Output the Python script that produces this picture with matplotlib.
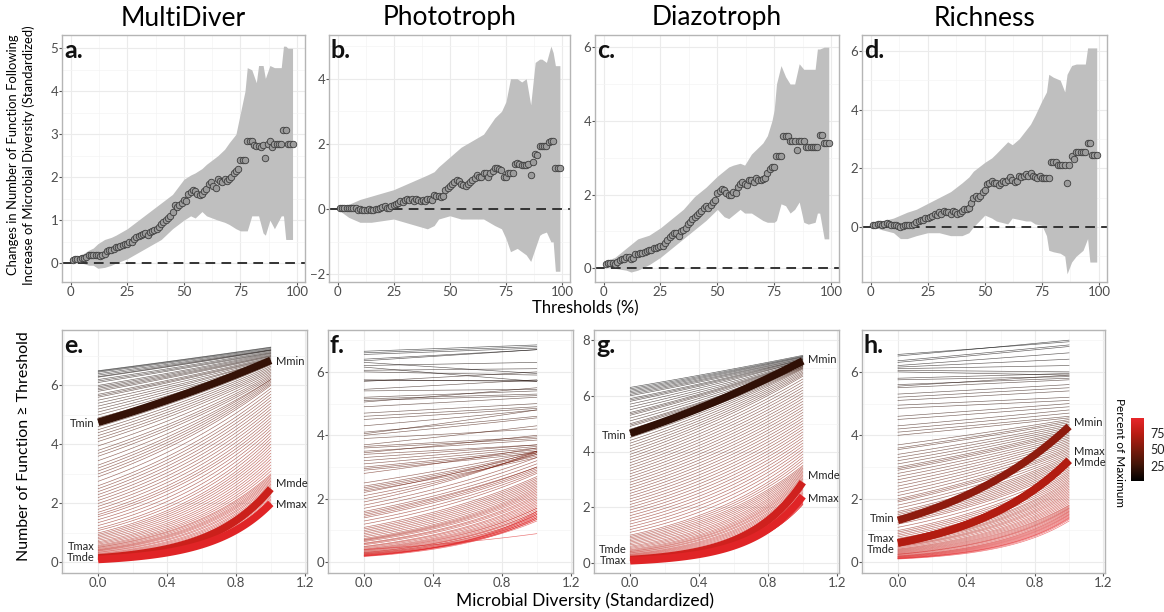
import numpy as np
import matplotlib
matplotlib.use('Agg')
import matplotlib.pyplot as plt
from matplotlib.colors import LinearSegmentedColormap, Normalize
from matplotlib.cm import ScalarMappable
from matplotlib.ticker import MultipleLocator, FormatStrFormatter

plt.rcParams['font.family'] = ['Lato', 'DejaVu Sans']

# ---------------- data: top row (effect of diversity at each threshold) ----------------
titles = ['MultiDiver', 'Phototroph', 'Diazotroph', 'Richness']

a_mean = [0.08, 0.1, 0.1, 0.1, 0.12, 0.12, 0.15, 0.18, 0.18, 0.2,
          0.2, 0.18, 0.16, 0.2, 0.22, 0.28, 0.3, 0.3, 0.32, 0.38,
          0.38, 0.4, 0.42, 0.45, 0.45, 0.48, 0.5, 0.55, 0.6, 0.62,
          0.65, 0.68, 0.7, 0.66, 0.72, 0.75, 0.78, 0.8, 0.85, 0.9,
          0.95, 1.0, 1.05, 1.1, 1.2, 1.35, 1.3, 1.35, 1.4, 1.48,
          1.45, 1.62, 1.65, 1.7, 1.68, 1.6, 1.58, 1.62, 1.68, 1.72,
          1.85, 1.88, 1.8, 1.75, 1.95, 1.9, 1.88, 1.95, 1.92, 1.95,
          2.0, 2.1, 2.15, 2.18, 2.4, 2.4, 2.4, 2.85, 2.85, 2.85,
          2.75, 2.72, 2.72, 2.7, 2.75, 2.45, 2.78, 2.85, 2.7, 2.78,
          2.78, 2.78, 2.78, 3.1, 3.1, 2.78, 2.78, 2.78]
b_mean = [0.03, 0.05, 0.05, 0.05, 0.04, 0.03, 0.05, 0.03, -0.02, 0.0,
          -0.03, -0.03, -0.02, 0.0, -0.03, -0.02, 0.0, 0.02, 0.05, 0.08,
          0.1, 0.05, 0.03, 0.1, 0.12, 0.15, 0.2, 0.25, 0.22, 0.28,
          0.3, 0.28, 0.3, 0.25, 0.3, 0.28, 0.25, 0.28, 0.25, 0.3,
          0.32, 0.28, 0.45, 0.4, 0.42, 0.38, 0.42, 0.6, 0.65, 0.7,
          0.78, 0.85, 0.9, 0.88, 0.78, 0.75, 0.72, 0.78, 0.82, 0.9,
          0.95, 1.05, 1.0, 0.98, 1.1, 1.12, 1.0, 1.12, 1.18, 1.25,
          1.25, 1.22, 1.2, 1.0, 0.98, 1.1, 1.1, 1.12, 1.4, 1.42,
          1.38, 1.35, 1.35, 1.35, 1.4, 1.05, 1.45, 1.7, 1.65, 1.95,
          1.95, 1.95, 1.95, 2.05, 2.1, 2.1, 1.25, 1.25, 1.25]
c_mean = [0.12, 0.15, 0.15, 0.15, 0.12, 0.18, 0.22, 0.25, 0.25, 0.3,
          0.3, 0.25, 0.28, 0.38, 0.4, 0.42, 0.42, 0.45, 0.48, 0.5,
          0.5, 0.55, 0.55, 0.58, 0.6, 0.62, 0.7, 0.78, 0.85, 0.9,
          0.95, 0.95, 0.88, 1.0, 1.05, 1.1, 1.2, 1.25, 1.35, 1.4,
          1.45, 1.5, 1.55, 1.65, 1.7, 1.65, 1.72, 1.8, 1.85, 2.05,
          2.1, 2.15, 2.12, 2.05, 1.98, 2.0, 2.08, 2.05, 2.2, 2.3,
          2.35, 2.28, 2.25, 2.4, 2.4, 2.35, 2.45, 2.4, 2.4, 2.42,
          2.45, 2.6, 2.7, 2.75, 2.75, 3.05, 3.05, 3.05, 3.6, 3.6,
          3.6, 3.45, 3.45, 3.45, 3.2, 3.45, 3.45, 3.45, 3.3, 3.3,
          3.3, 3.3, 3.3, 3.3, 3.62, 3.62, 3.4, 3.4, 3.4]
d_mean = [0.05, 0.08, 0.1, 0.1, 0.08, 0.1, 0.12, 0.1, 0.08, 0.08,
          0.05, 0.02, 0.0, 0.02, 0.05, 0.05, 0.08, 0.08, 0.1, 0.15,
          0.2, 0.25, 0.25, 0.3, 0.3, 0.35, 0.38, 0.45, 0.4, 0.5,
          0.45, 0.55, 0.5, 0.5, 0.45, 0.55, 0.5, 0.45, 0.48, 0.55,
          0.6, 0.62, 0.65, 0.8, 1.0, 1.05, 1.0, 1.05, 1.2, 1.25,
          1.45, 1.5, 1.55, 1.5, 1.48, 1.42, 1.5, 1.55, 1.52, 1.6,
          1.7, 1.6, 1.52, 1.55, 1.75, 1.7, 1.72, 1.8, 1.75, 1.85,
          1.75, 1.7, 1.68, 1.72, 1.68, 1.65, 1.65, 1.65, 2.2, 2.2,
          2.2, 2.1, 2.1, 2.1, 2.1, 1.5, 2.1, 2.4, 2.3, 2.55,
          2.55, 2.55, 2.55, 2.55, 2.85, 2.85, 2.45, 2.45, 2.45]

# confidence band (threshold, lower, upper)
a_band_x = [1, 3, 5, 8, 10, 12, 15, 18, 20, 25, 30, 35, 40, 45, 50, 53, 55, 58, 60, 65,
            68, 70, 73, 75, 77, 78, 80, 82, 83, 85, 86, 88, 90, 92, 93, 94, 95, 96, 97, 98]
a_band_hi = [0.12, 0.15, 0.2, 0.3, 0.35, 0.45, 0.55, 0.6, 0.65, 0.8, 1.0, 1.2, 1.4, 1.6, 1.95, 2.05, 2.1, 2.2, 2.3, 2.5,
             2.65, 2.8, 3.0, 3.5, 4.0, 4.55, 4.5, 4.2, 4.6, 4.6, 4.3, 4.6, 4.55, 4.55, 4.55, 5.05, 5.05, 5.0, 5.0, 5.0]
a_band_lo = [0.05, 0.05, 0.0, -0.05, -0.05, -0.12, -0.1, -0.05, 0.0, 0.1, 0.25, 0.4, 0.55, 0.8, 1.0, 1.1, 1.05, 1.2, 1.1, 1.0,
             0.95, 0.9, 0.8, 0.75, 0.75, 0.75, 1.1, 1.1, 1.1, 0.7, 0.65, 1.0, 0.8, 1.0, 1.1, 1.1, 0.55, 0.55, 0.55, 0.55]

b_band_x = [1, 5, 10, 15, 20, 25, 30, 35, 40, 43, 45, 50, 55, 60, 65, 70, 73, 75, 77, 80,
            82, 84, 86, 88, 90, 91, 93, 95, 96, 97, 99]
b_band_hi = [0.1, 0.15, 0.3, 0.4, 0.5, 0.6, 0.75, 0.9, 1.05, 1.15, 1.3, 1.6, 1.9, 2.1, 2.3, 2.8, 3.0, 3.3, 4.0, 4.0,
             3.9, 4.0, 3.2, 4.5, 4.6, 4.6, 4.5, 5.0, 4.8, 4.4, 4.4]
b_band_lo = [-0.05, -0.25, -0.4, -0.4, -0.35, -0.3, -0.4, -0.5, -0.6, -0.5, -0.3, -0.2, -0.3, -0.3, -0.3, -0.5, -0.6, -0.9, -1.3, -1.2,
             -1.3, -1.4, -1.6, -1.2, -0.8, -0.75, -0.7, -1.0, -1.0, -1.9, -1.9]

c_band_x = [1, 5, 10, 12, 15, 20, 25, 30, 35, 40, 45, 50, 53, 55, 57, 60, 62, 65, 70, 72,
            74, 75, 76, 78, 80, 82, 84, 86, 88, 90, 93, 94, 95, 97, 99]
c_band_hi = [0.2, 0.3, 0.55, 0.65, 0.8, 0.9, 1.1, 1.35, 1.6, 1.95, 2.2, 2.5, 2.65, 2.75, 2.8, 2.85, 2.8, 3.1, 3.4, 3.6,
             4.0, 4.3, 5.0, 5.5, 5.2, 5.0, 5.0, 5.55, 5.4, 5.4, 5.4, 5.95, 5.95, 6.0, 6.0]
c_band_lo = [0.05, 0.0, -0.05, -0.1, -0.05, 0.1, 0.3, 0.55, 0.8, 1.05, 1.3, 1.6, 1.4, 1.35, 1.45, 1.6, 1.5, 1.5, 1.3, 1.25,
             1.25, 1.25, 1.3, 1.75, 1.7, 1.5, 1.6, 1.8, 1.25, 1.2, 1.25, 1.5, 1.5, 0.8, 0.8]

d_band_x = [1, 5, 10, 13, 16, 20, 25, 30, 35, 40, 43, 45, 50, 53, 55, 60, 62, 65, 68, 70,
            72, 75, 77, 78, 80, 83, 85, 86, 88, 90, 93, 94, 95, 96, 97, 99]
d_band_hi = [0.1, 0.2, 0.3, 0.4, 0.5, 0.6, 0.8, 1.0, 1.2, 1.5, 1.7, 1.9, 2.2, 2.35, 2.5, 2.9, 2.8, 3.0, 3.3, 3.5,
             3.8, 4.3, 4.6, 5.2, 5.1, 5.0, 4.6, 5.2, 5.5, 5.55, 5.55, 5.55, 6.1, 6.1, 6.1, 6.1]
d_band_lo = [0.0, -0.1, -0.2, -0.4, -0.4, -0.3, -0.2, -0.2, -0.3, -0.3, -0.2, 0.0, 0.4, 0.3, 0.2, 0.1, 0.3, 0.25, 0.2, 0.2,
             0.1, 0.05, -0.3, -0.8, -0.85, -0.9, -1.0, -1.6, -1.2, -1.0, -0.8, -0.6, -0.4, -1.2, -1.2, -1.2]

# ---------------- data: bottom row (fitted number of functions >= threshold) ----------------
# value of each threshold curve (1..99 %) at diversity 0 and at diversity 1
e_start = [6.5, 6.48, 6.45, 6.4, 6.35, 6.3, 6.28, 6.2, 6.15, 6.1,
           6.0, 5.95, 5.9, 5.85, 5.8, 5.7, 5.65, 5.6, 5.5, 5.4,
           5.3, 5.2, 5.1, 5.0, 4.9, 4.75, 4.6, 4.5, 4.4, 4.3,
           4.2, 4.1, 3.95, 3.8, 3.7, 3.6, 3.45, 3.3, 3.2, 3.1,
           3.0, 2.9, 2.75, 2.6, 2.5, 2.4, 2.3, 2.2, 2.1, 2.0,
           1.9, 1.8, 1.7, 1.62, 1.55, 1.45, 1.35, 1.25, 1.15, 1.08,
           1.0, 0.95, 0.9, 0.85, 0.8, 0.75, 0.7, 0.66, 0.62, 0.58,
           0.55, 0.52, 0.5, 0.47, 0.44, 0.42, 0.4, 0.38, 0.35, 0.33,
           0.3, 0.28, 0.26, 0.24, 0.22, 0.2, 0.19, 0.18, 0.17, 0.16,
           0.15, 0.14, 0.13, 0.12, 0.12, 0.11, 0.1, 0.1, 0.1]
e_end = [7.3, 7.28, 7.25, 7.22, 7.2, 7.2, 7.18, 7.15, 7.12, 7.1,
         7.08, 7.05, 7.02, 7.0, 6.98, 6.95, 6.92, 6.9, 6.88, 6.85,
         6.85, 6.82, 6.8, 6.78, 6.75, 6.85, 6.7, 6.65, 6.6, 6.55,
         6.5, 6.45, 6.4, 6.35, 6.3, 6.25, 6.2, 6.2, 6.15, 6.1,
         6.05, 6.0, 5.9, 5.8, 5.7, 5.6, 5.5, 5.4, 5.3, 5.2,
         5.1, 5.0, 4.9, 4.8, 4.7, 4.6, 4.5, 4.4, 4.3, 4.2,
         4.1, 4.0, 3.9, 3.8, 3.7, 3.6, 3.5, 3.4, 3.3, 3.2,
         3.1, 3.0, 2.95, 2.9, 2.85, 2.8, 2.75, 2.7, 2.65, 2.6,
         2.55, 2.5, 2.45, 2.4, 2.35, 2.3, 2.25, 2.2, 2.15, 2.1,
         2.05, 2.0, 2.0, 1.95, 1.95, 1.9, 1.9, 1.9, 1.9]

f_start = [6.65, 6.6, 6.55, 6.4, 6.35, 6.3, 6.2, 6.15, 6.05, 6.0,
           5.75, 5.75, 5.7, 5.45, 5.4, 5.2, 5.15, 5.1, 5.05, 4.9,
           4.7, 4.6, 4.5, 4.3, 4.1, 4.05, 4.0, 3.9, 3.7, 3.65,
           3.6, 3.5, 3.45, 3.4, 3.3, 3.2, 3.1, 3.0, 2.95, 2.9,
           2.8, 2.5, 2.4, 2.35, 2.3, 2.25, 2.2, 2.1, 2.0, 1.9,
           1.8, 1.7, 1.6, 1.55, 1.5, 1.45, 1.4, 1.3, 1.2, 1.1,
           1.05, 1.0, 0.95, 0.9, 0.85, 0.8, 0.75, 0.72, 0.7, 0.68,
           0.65, 0.6, 0.58, 0.55, 0.5, 0.48, 0.45, 0.42, 0.4, 0.38,
           0.36, 0.34, 0.32, 0.3, 0.3, 0.28, 0.27, 0.26, 0.25, 0.24,
           0.23, 0.22, 0.22, 0.4, 0.2, 0.2, 0.2, 0.19, 0.18]
f_end = [6.85, 6.8, 6.75, 6.7, 6.7, 5.95, 6.3, 5.7, 6.1, 5.9,
         5.75, 5.7, 6.0, 5.75, 5.45, 5.4, 5.3, 5.25, 5.5, 5.2,
         5.0, 4.9, 4.85, 4.8, 4.6, 4.8, 4.55, 4.2, 4.3, 3.95,
         3.9, 3.85, 4.0, 3.7, 3.7, 3.65, 3.6, 3.55, 3.5, 3.45,
         3.6, 3.5, 3.45, 3.4, 3.35, 3.3, 3.5, 3.4, 3.45, 3.5,
         3.3, 3.2, 3.1, 3.0, 3.0, 2.95, 2.9, 2.85, 2.8, 2.7,
         2.65, 2.6, 2.55, 2.5, 2.45, 2.4, 2.35, 2.3, 2.25, 2.2,
         2.15, 2.1, 2.05, 2.0, 1.95, 1.9, 1.85, 1.8, 1.75, 1.7,
         1.7, 1.65, 1.6, 1.6, 1.55, 1.5, 1.5, 1.45, 1.4, 1.4,
         1.35, 1.35, 1.3, 0.9, 1.6, 1.55, 1.5, 1.45, 1.4]

g_start = [6.3, 6.25, 6.2, 6.15, 6.1, 6.05, 6.0, 5.9, 5.85, 5.8,
           5.7, 5.6, 5.5, 5.4, 5.35, 5.3, 5.2, 5.1, 5.0, 4.95,
           4.9, 4.8, 4.75, 4.7, 4.6, 4.5, 4.4, 4.3, 4.2, 4.1,
           4.0, 3.9, 3.8, 3.7, 3.6, 3.5, 3.4, 3.3, 3.2, 3.1,
           3.0, 2.9, 2.8, 2.7, 2.6, 2.5, 2.4, 2.3, 2.2, 2.1,
           2.0, 1.9, 1.8, 1.7, 1.6, 1.5, 1.4, 1.3, 1.2, 1.1,
           1.0, 0.95, 0.9, 0.85, 0.8, 0.75, 0.7, 0.65, 0.6, 0.56,
           0.52, 0.48, 0.45, 0.42, 0.4, 0.37, 0.35, 0.32, 0.3, 0.28,
           0.26, 0.24, 0.22, 0.2, 0.19, 0.18, 0.17, 0.16, 0.15, 0.14,
           0.13, 0.12, 0.11, 0.1, 0.1, 0.09, 0.08, 0.08, 0.08]
g_end = [7.45, 7.42, 7.4, 7.38, 7.35, 7.33, 7.3, 7.3, 7.28, 7.25,
         7.25, 7.22, 7.2, 7.2, 7.18, 7.15, 7.15, 7.12, 7.1, 7.1,
         7.08, 7.05, 7.05, 7.02, 7.0, 6.98, 6.95, 6.9, 6.85, 6.8,
         6.75, 6.7, 6.6, 6.5, 6.4, 6.3, 6.2, 6.1, 6.0, 5.9,
         5.8, 5.7, 5.6, 5.5, 5.4, 5.3, 5.2, 5.1, 5.0, 4.9,
         4.8, 4.7, 4.6, 4.5, 4.4, 4.3, 4.2, 4.1, 4.0, 3.9,
         3.8, 3.7, 3.6, 3.5, 3.45, 3.4, 3.35, 3.3, 3.25, 3.2,
         3.15, 3.1, 3.05, 3.0, 2.95, 2.9, 2.85, 2.8, 2.75, 2.7,
         2.65, 2.6, 2.55, 2.5, 2.45, 2.4, 2.35, 2.3, 2.3, 2.25,
         2.25, 2.2, 2.2, 2.2, 2.15, 2.15, 2.1, 2.1, 2.1]

h_start = [6.55, 6.5, 6.35, 6.3, 6.2, 6.15, 6.1, 6.05, 6.0, 5.8,
           5.75, 5.6, 5.55, 5.5, 5.3, 5.2, 5.1, 4.95, 4.85, 4.6,
           4.5, 4.3, 4.2, 4.1, 4.0, 3.7, 3.6, 3.55, 3.4, 3.3,
           3.2, 3.1, 3.0, 2.95, 2.9, 2.8, 2.7, 2.6, 2.5, 2.4,
           2.3, 2.2, 2.1, 2.0, 1.95, 1.9, 1.8, 1.7, 1.6, 1.55,
           1.5, 1.45, 1.4, 1.35, 1.3, 1.25, 1.2, 1.1, 1.0, 0.95,
           0.9, 0.85, 0.8, 0.75, 0.7, 0.68, 0.65, 0.62, 0.6, 0.58,
           0.55, 0.52, 0.5, 0.48, 0.45, 0.42, 0.4, 0.38, 0.36, 0.34,
           0.32, 0.3, 0.28, 0.26, 0.25, 0.24, 0.22, 0.2, 0.19, 0.18,
           0.17, 0.16, 0.15, 0.14, 0.13, 0.12, 0.12, 0.11, 0.1]
h_end = [6.95, 7.0, 6.85, 6.8, 6.6, 6.4, 6.2, 6.0, 5.9, 5.95,
         5.85, 5.8, 5.9, 5.75, 5.6, 5.5, 5.4, 5.2, 5.1, 5.0,
         4.9, 4.8, 4.7, 4.6, 4.55, 4.5, 4.45, 4.4, 4.35, 4.3,
         4.25, 4.2, 4.15, 4.1, 4.05, 4.0, 3.95, 3.9, 3.85, 3.8,
         3.75, 3.7, 3.65, 3.6, 3.55, 3.5, 3.45, 3.4, 3.35, 3.3,
         3.25, 3.2, 3.15, 3.1, 3.05, 3.0, 2.95, 2.9, 2.85, 2.8,
         2.75, 2.7, 2.65, 2.6, 2.55, 2.5, 2.45, 2.4, 2.35, 2.3,
         2.25, 2.2, 2.15, 2.1, 2.05, 2.0, 1.95, 1.9, 1.85, 1.8,
         1.78, 1.75, 1.72, 1.7, 1.68, 1.65, 1.62, 1.6, 1.58, 1.55,
         1.52, 1.5, 1.48, 1.45, 1.42, 1.4, 1.38, 1.35, 1.3]

# highlighted thresholds: Tmin, Tmde, Tmax (threshold %, start, end)
e_hl_thr = [22, 84, 95]
e_hl_start = [4.75, 0.15, 0.1]
e_hl_end = [6.85, 2.5, 2.0]
g_hl_thr = [20, 86, 95]
g_hl_start = [4.65, 0.12, 0.08]
g_hl_end = [7.25, 2.9, 2.4]
h_hl_thr = [58, 72, 72]
h_hl_start = [1.32, 0.61, 0.61]
h_hl_end = [4.28, 3.21, 3.21]

# ---------------- figure ----------------
W, H = 1164, 612
fig = plt.figure(figsize=(W / 100, H / 100), dpi=100)

# black -> red gradient (Lab-like, as in ggplot)
cmap = LinearSegmentedColormap.from_list(
    'pct', [(0, '#000000'), (0.25, '#3f1508'), (0.5, '#7a1b0c'), (0.75, '#b81c12'), (1, '#e8262a')])
norm = Normalize(1, 99)

tick_col = '#4d4d4d'


def style_axes(ax):
    for s in ax.spines.values():
        s.set_color('#b5b5b5')
        s.set_linewidth(1.0)
    ax.grid(True, which='major', color='#ebebeb', lw=0.8, zorder=0)
    ax.grid(True, which='minor', color='#f4f4f4', lw=0.5, zorder=0)
    ax.set_axisbelow(True)
    ax.tick_params(which='major', direction='out', length=2, width=0.8,
                   color='#555555', labelsize=9.5, labelcolor=tick_col, pad=0.8)
    ax.tick_params(which='minor', length=0)


# top row
top_means = [a_mean, b_mean, c_mean, d_mean]
band_x = [a_band_x, b_band_x, c_band_x, d_band_x]
band_lo = [a_band_lo, b_band_lo, c_band_lo, d_band_lo]
band_hi = [a_band_hi, b_band_hi, c_band_hi, d_band_hi]
top_ylim = [(-0.44, 5.31), (-2.23, 5.34), (-0.37, 6.33), (-1.88, 6.54)]
top_ystep = [1, 2, 2, 2]
top_pos = [(62, 305), (329, 570), (595, 839), (862, 1107)]
letters_top = ['a.', 'b.', 'c.', 'd.']

for i in range(4):
    x0, x1 = top_pos[i]
    ax = fig.add_axes([x0 / W, 1 - 282 / H, (x1 - x0) / W, (282 - 35) / H])
    mean = top_means[i]
    thr = np.arange(1, len(mean) + 1)
    ax.fill_between(band_x[i], band_lo[i], band_hi[i], color='#bfbfbf', lw=0, zorder=1)
    ax.axhline(0, color='#333333', lw=1.4, dashes=(5, 3.2), zorder=2)
    ax.scatter(thr, mean, s=22, c='#9c9c9c', edgecolors='#3c3c3c', linewidths=0.6, zorder=3)
    ax.set_xlim(-3.8, 103.5)
    ax.set_ylim(*top_ylim[i])
    ax.xaxis.set_major_locator(MultipleLocator(25))
    ax.xaxis.set_minor_locator(MultipleLocator(12.5))
    ax.yaxis.set_major_locator(MultipleLocator(top_ystep[i]))
    ax.yaxis.set_minor_locator(MultipleLocator(top_ystep[i] / 2))
    style_axes(ax)
    ax.text(0.008, 0.985, letters_top[i], transform=ax.transAxes, ha='left', va='top',
            fontsize=18, fontweight='bold', color='#111111')
    fig.text((x0 + x1) / 2 / W, 1 - 18 / H, titles[i], ha='center', va='center', fontsize=19)

# bottom row
starts = [e_start, f_start, g_start, h_start]
ends = [e_end, f_end, g_end, h_end]
highlights = [(e_hl_thr, e_hl_start, e_hl_end), None,
              (g_hl_thr, g_hl_start, g_hl_end), (h_hl_thr, h_hl_start, h_hl_end)]
bot_ylim = [(-0.36, 7.88), (-0.34, 7.32), (-0.36, 8.36), (-0.34, 7.32)]
bot_pos = [(62, 307), (328, 573), (594, 839), (862, 1105)]
letters_bot = ['e.', 'f.', 'g.', 'h.']
# label placement (y in data units) for T labels (left) and M labels (right)
t_label_y = [[4.7, 0.15, 0.53], None, [4.58, 0.5, 0.08], [1.37, 0.39, 0.76]]
m_label_y = [[6.82, 2.68, 1.95], None, [7.3, 3.13, 2.32], [4.4, 3.15, 3.48]]
hl_names = ['min', 'mde', 'max']

xs = np.linspace(0, 1, 80)
for i in range(4):
    x0, x1 = bot_pos[i]
    ax = fig.add_axes([x0 / W, 1 - 573 / H, (x1 - x0) / W, (573 - 330) / H])
    # fitted log-link curves: y = start * (end/start) ** diversity
    for t, (y0, y1) in enumerate(zip(starts[i], ends[i]), start=1):
        ax.plot(xs, y0 * (y1 / y0) ** xs, color=cmap(norm(t)), lw=0.45, alpha=0.65, zorder=2)
    if highlights[i] is not None:
        thr_l, st_l, en_l = highlights[i]
        for k in range(3):
            y0, y1 = st_l[k], en_l[k]
            ax.plot(xs, y0 * (y1 / y0) ** xs, color=cmap(norm(thr_l[k])), lw=5.5,
                    solid_capstyle='butt', zorder=3)
            ax.text(-0.02, t_label_y[i][k], 'T' + hl_names[k], ha='right', va='center',
                    fontsize=8, color='#222222')
            ax.text(1.03, m_label_y[i][k], 'M' + hl_names[k], ha='left', va='center',
                    fontsize=8, color='#222222')
    ax.set_xlim(-0.21, 1.21)
    ax.set_ylim(*bot_ylim[i])
    ax.xaxis.set_major_locator(MultipleLocator(0.4))
    ax.xaxis.set_minor_locator(MultipleLocator(0.2))
    ax.xaxis.set_major_formatter(FormatStrFormatter('%.1f'))
    ax.yaxis.set_major_locator(MultipleLocator(2))
    ax.yaxis.set_minor_locator(MultipleLocator(1))
    style_axes(ax)
    ax.text(0.008, 0.985, letters_bot[i], transform=ax.transAxes, ha='left', va='top',
            fontsize=18, fontweight='bold', color='#111111')

# axis titles
fig.text(585 / W, 1 - 308 / H, 'Thresholds (%)', ha='center', va='center', fontsize=12)
fig.text(585 / W, 1 - 601 / H, 'Microbial Diversity (Standardized)', ha='center', va='center', fontsize=12.5)
fig.text(21 / W, 1 - 155 / H,
         'Changes in Number of Function Following\nIncrease of Microbial Diversity (Standardized)',
         rotation=90, ha='center', va='center', fontsize=9.4, linespacing=1.35)
fig.text(24 / W, 1 - 446 / H, 'Number of Function \u2265 Threshold', rotation=90,
         ha='center', va='center', fontsize=11.5)

# colour bar
cax = fig.add_axes([1131 / W, 1 - 481 / H, 13 / W, 63 / H])
cb = fig.colorbar(ScalarMappable(norm=norm, cmap=cmap), cax=cax, ticks=[25, 50, 75])
cb.outline.set_visible(False)
cax.tick_params(length=2.5, width=0.8, color='white', labelsize=9, labelcolor='#222222', pad=2)
fig.text(1119 / W, 1 - 452 / H, 'Percent of Maximum', rotation=270, ha='center', va='center',
         fontsize=8.5)

fig.savefig('out.png', dpi=100)
